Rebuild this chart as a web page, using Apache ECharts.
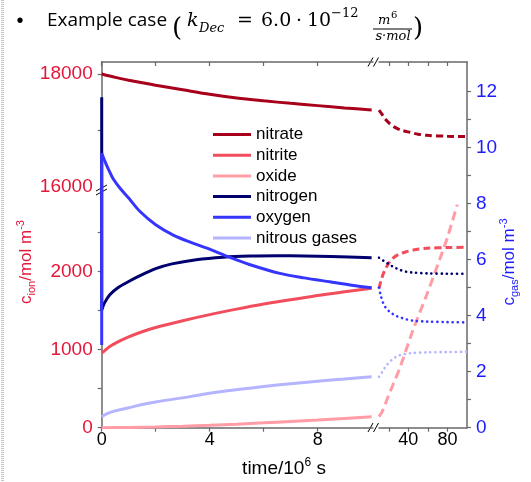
<!DOCTYPE html>
<html>
<head>
<meta charset="utf-8">
<script src="https://cdn.jsdelivr.net/npm/echarts@6/dist/echarts.min.js"></script>
<style>
	html, body { margin: 0; padding: 0; background: #fff; }
	#chart { width: 531px; height: 482px; }
</style>
</head>
<body>
<div id="chart"></div>
<script>
	// time in 10^6 s (first part) and in 10^6 s after the axis break
	const tNitrate = [0, 0.5, 1, 1.5, 2, 3, 4, 5, 6, 7, 8, 9, 10];
	const cNitrate = [18000, 17940, 17890, 17845, 17800, 17720, 17640, 17575, 17525, 17480, 17440, 17400, 17362];
	const tNitrate2 = [10, 13, 16, 21, 26, 32, 42, 50, 59, 80, 100];
	const cNitrate2 = [17362, 17290, 17210, 17120, 17060, 17010, 16966, 16935, 16914, 16898, 16891];

	const tNitrite = [0, 0.1, 0.3, 0.6, 1, 1.5, 2, 3, 4, 5, 6, 7, 8, 9, 10];
	const cNitrite = [958, 985, 1040, 1100, 1165, 1230, 1285, 1372, 1450, 1520, 1585, 1640, 1695, 1742, 1787];
	const tNitrite2 = [10, 12, 14, 16, 20, 24, 30, 38, 48, 59, 80, 100];
	const cNitrite2 = [1787, 1880, 1960, 2022, 2110, 2172, 2220, 2256, 2285, 2300, 2310, 2313];

	const tOxide = [0, 1, 2, 3, 4, 5, 6, 7, 8, 9, 10];
	const cOxide = [0, 4, 10, 19, 30, 45, 62, 80, 98, 119, 141];
	const tOxide2 = [10, 13, 16, 20, 25, 32, 45, 59, 73, 80, 90];
	const cOxide2 = [141, 200, 290, 420, 570, 790, 1260, 1710, 2190, 2440, 2860];

	// jump at t = 0, then the curve
	const tNitrogenJump = [0, 0];
	const vNitrogenJump = [11.8, 4.2];
	const tNitrogen = [0, 0.1, 0.3, 0.6, 1, 1.4, 2, 2.6, 3.5, 4.5, 5.5, 6.5, 7.5, 8.5, 10];
	const vNitrogen = [4.2, 4.45, 4.75, 5.0, 5.22, 5.42, 5.68, 5.85, 6.0, 6.09, 6.13, 6.14, 6.13, 6.11, 6.07];
	const tNitrogen2 = [10, 13, 16, 20, 25, 31, 38, 45, 60, 80, 100];
	const vNitrogen2 = [6.07, 6.0, 5.93, 5.84, 5.74, 5.64, 5.57, 5.54, 5.51, 5.5, 5.5];

	const tOxygenJump = [0, 0];
	const vOxygenJump = [2.95, 9.8];
	const tOxygen = [0, 0.1, 0.2, 0.3, 0.43, 0.68, 1, 1.42, 2, 2.65, 3.3, 3.9, 4.75, 5.5, 6.6, 7.5, 8.45, 9.2, 10];
	const vOxygen = [9.8, 9.56, 9.33, 9.13, 8.88, 8.55, 8.2, 7.72, 7.25, 6.88, 6.62, 6.41, 6.08, 5.82, 5.51, 5.35, 5.21, 5.1, 5.0];
	const tOxygen2 = [10, 12, 14.4, 17, 21, 26, 31.5, 38, 45, 59, 80, 100];
	const vOxygen2 = [5.0, 4.7, 4.44, 4.28, 4.14, 4.02, 3.94, 3.87, 3.82, 3.79, 3.77, 3.76];

	const tNitrous = [0, 0.2, 0.5, 1, 1.42, 2, 3.27, 4, 5.12, 6, 7, 8, 9, 10];
	const vNitrous = [0.39, 0.5, 0.6, 0.71, 0.81, 0.92, 1.11, 1.23, 1.37, 1.47, 1.57, 1.66, 1.74, 1.82];
	const tNitrous2 = [10, 13, 18, 23, 28, 35, 42, 59, 80, 100];
	const vNitrous2 = [1.82, 1.98, 2.24, 2.42, 2.54, 2.62, 2.66, 2.69, 2.7, 2.71];

	const names = ['nitrate', 'nitrite', 'oxide', 'nitrogen', 'oxygen', 'nitrous gases'];
	const colors = ['#a8001c', '#f24d5c', '#ff9ca5', '#00006e', '#3535ff', '#b4b4ff'];

	// tick labels
	const ionTicksLow = [0, 500, 1000, 1500, 2000, 2500];
	const ionLabelsLow = [0, 1000, 2000];
	const ionTicksHigh = [17000, 18000];
	const ionLabelsHigh = [16000, 18000];
	const gasTicks = [0, 1, 2, 3, 4, 5, 6, 7, 8, 9, 10, 11, 12];
	const gasLabels = [0, 2, 4, 6, 8, 10, 12];
	const timeTicks = [0, 2, 4, 6, 8];
	const timeLabels = [0, 4, 8];
	const timeTicks2 = [20, 40, 60, 80];
	const timeLabels2 = [40, 80];

	const ionColor = '#e3173a';
	const gasColor = '#1c1cff';
	const axisGrey = '#686868';

	function zip(t, v) {
		return t.map((x, i) => [x, v[i]]);
	}

	function line(name, t, v, idx, color, style) {
		let lineStyle = { color: color, width: 3 };
		if(style === 'dash') {
			lineStyle.type = [7, 4];
		} else if(style === 'longdash') {
			lineStyle.type = [9, 5];
		} else if(style === 'dot') {
			lineStyle.type = [0.1, 5];
			lineStyle.width = 2.6;
			lineStyle.cap = 'round';
		}
		return {
			name: name,
			type: 'line',
			xAxisIndex: idx,
			yAxisIndex: idx,
			data: zip(t, v),
			showSymbol: false,
			symbol: 'none',
			smooth: style === 'jump' ? false : 0.3,
			color: color,
			itemStyle: { color: color },
			lineStyle: lineStyle,
			emphasis: { disabled: true }
		};
	}

	function hiddenAxis(grid, min, max) {
		return { type: 'value', gridIndex: grid, min: min, max: max, show: false };
	}
	function timeAxis(grid, min, max, ticks, labels, pos) {
		return {
			type: 'value',
			gridIndex: grid,
			position: pos,
			min: min,
			max: max,
			axisLine: { show: true, lineStyle: { color: axisGrey, width: 1.5 } },
			axisTick: { show: true, inside: pos === 'top', length: 4, customValues: ticks, lineStyle: { color: axisGrey, width: 1.2 } },
			axisLabel: {
				show: pos === 'bottom',
				customValues: labels,
				formatter: (v) => String(v),
				margin: 3,
				color: '#000',
				fontSize: 18,
				fontFamily: 'Liberation Sans'
			},
			splitLine: { show: false }
		};
	}
	function sideAxis(grid, min, max, ticks, labels, pos, color) {
		return {
			type: 'value',
			gridIndex: grid,
			position: pos,
			min: min,
			max: max,
			axisLine: { show: true, lineStyle: { color: axisGrey, width: 1.5 } },
			axisTick: { show: true, length: 4, customValues: ticks, lineStyle: { color: axisGrey, width: 1.2 } },
			axisLabel: {
				customValues: labels,
				formatter: (v) => String(v),
				margin: 9,
				color: color,
				fontSize: 19,
				fontFamily: 'Liberation Sans'
			},
			splitLine: { show: false }
		};
	}

	const chart = echarts.init(document.getElementById('chart'), null, { renderer: 'canvas' });

	const sans = 'Liberation Sans';
	const serif = 'DejaVu Serif';

	const option = {
		backgroundColor: '#fff',
		animation: false,
		grid: [
			{ left: 101.7, top: 62, width: 271.3, height: 128 },
			{ left: 379, top: 62, width: 88, height: 128 },
			{ left: 101.7, top: 193.7, width: 271.3, height: 234 },
			{ left: 379, top: 193.7, width: 88, height: 234 },
			{ left: 101.7, top: 62, width: 271.3, height: 365.7 },
			{ left: 379, top: 62, width: 88, height: 365.7 }
		],
		xAxis: [
			hiddenAxis(0, 0, 10.05),
			hiddenAxis(1, 10, 100),
			hiddenAxis(2, 0, 10.05),
			hiddenAxis(3, 10, 100),
			timeAxis(4, 0, 10.05, timeTicks, timeLabels, 'bottom'),
			timeAxis(5, 10, 100, timeTicks2, timeLabels2, 'bottom'),
			timeAxis(4, 0, 10.05, timeTicks, timeLabels, 'top'),
			timeAxis(5, 10, 100, timeTicks2, timeLabels2, 'top')
		],
		yAxis: [
			sideAxis(0, 15947, 18212, ionTicksHigh, ionLabelsHigh, 'left', ionColor),
			hiddenAxis(1, 15947, 18212),
			sideAxis(2, 0, 3000, ionTicksLow, ionLabelsLow, 'left', ionColor),
			hiddenAxis(3, 0, 3000),
			hiddenAxis(4, 0, 13.06),
			sideAxis(5, 0, 13.06, gasTicks, gasLabels, 'right', gasColor)
		],
		legend: {
			data: names,
			orient: 'vertical',
			left: 208,
			top: 121,
			icon: 'rect',
			itemWidth: 38,
			itemHeight: 3,
			itemGap: 3.7,
			selectedMode: false,
			textStyle: { color: '#000', fontSize: 17, lineHeight: 17, fontFamily: sans }
		},
		series: [
			line('nitrate', tNitrate, cNitrate, 0, colors[0], 'solid'),
			line('nitrate', tNitrate2, cNitrate2, 1, colors[0], 'dash'),
			line('nitrite', tNitrite, cNitrite, 2, colors[1], 'solid'),
			line('nitrite', tNitrite2, cNitrite2, 3, colors[1], 'dash'),
			line('oxide', tOxide, cOxide, 2, colors[2], 'solid'),
			line('oxide', tOxide2, cOxide2, 3, colors[2], 'longdash'),
			line('nitrogen', tNitrogen, vNitrogen, 4, colors[3], 'solid'),
			line('nitrogen', tNitrogenJump, vNitrogenJump, 4, colors[3], 'jump'),
			line('nitrogen', tNitrogen2, vNitrogen2, 5, colors[3], 'dot'),
			line('oxygen', tOxygen, vOxygen, 4, colors[4], 'solid'),
			line('oxygen', tOxygenJump, vOxygenJump, 4, colors[4], 'jump'),
			line('oxygen', tOxygen2, vOxygen2, 5, colors[4], 'dot'),
			line('nitrous gases', tNitrous, vNitrous, 4, colors[5], 'solid'),
			line('nitrous gases', tNitrous2, vNitrous2, 5, colors[5], 'dot')
		],
		graphic: [
			// slide border on the left
			{ type: 'line', shape: { x1: 2.5, y1: 0, x2: 2.5, y2: 482 }, style: { stroke: '#c4c4c4', lineWidth: 3, lineDash: [1, 1] } },
			// title
			{ type: 'text', x: 20, y: 21, style: { text: '•', font: '20px ' + sans, fill: '#000', align: 'center', verticalAlign: 'middle' } },
			{ type: 'text', x: 47, y: 21, style: { text: 'Example case', font: '19px "Open Sans"', fill: '#000', verticalAlign: 'middle' } },
			{ type: 'text', x: 172, y: 29, style: { text: '(', font: '26px "' + serif + '"', fill: '#000', verticalAlign: 'middle' } },
			{ type: 'text', x: 187, y: 21, style: { text: 'k', font: 'italic 19px "' + serif + '"', fill: '#000', verticalAlign: 'middle' } },
			{ type: 'text', x: 199, y: 29, style: { text: 'Dec', font: 'italic 13px "' + serif + '"', fill: '#000', verticalAlign: 'middle' } },
			{ type: 'text', x: 237, y: 21, style: { text: '=', font: '19px "' + serif + '"', fill: '#000', verticalAlign: 'middle' } },
			{ type: 'text', x: 261, y: 21, style: { text: '6.0', font: '19px "' + serif + '"', fill: '#000', verticalAlign: 'middle' } },
			{ type: 'text', x: 296, y: 21, style: { text: '·', font: '19px "' + serif + '"', fill: '#000', verticalAlign: 'middle' } },
			{ type: 'text', x: 307, y: 21, style: { text: '10', font: '19px "' + serif + '"', fill: '#000', verticalAlign: 'middle' } },
			{ type: 'text', x: 331, y: 14, style: { text: '−12', font: '13px "' + serif + '"', fill: '#000', verticalAlign: 'middle' } },
			{ type: 'text', x: 378, y: 21, style: { text: 'm', font: 'italic 13px "' + serif + '"', fill: '#000', verticalAlign: 'middle' } },
			{ type: 'text', x: 391, y: 15, style: { text: '6', font: '10px "' + serif + '"', fill: '#000', verticalAlign: 'middle' } },
			{ type: 'line', shape: { x1: 373, y1: 29, x2: 412, y2: 29 }, style: { stroke: '#000', lineWidth: 1 } },
			{ type: 'text', x: 393, y: 37, style: { text: 's·mol', font: 'italic 13px "' + serif + '"', fill: '#000', align: 'center', verticalAlign: 'middle' } },
			{ type: 'text', x: 413, y: 29, style: { text: ')', font: '26px "' + serif + '"', fill: '#000', verticalAlign: 'middle' } },
			// axis titles
			{
				type: 'text', x: 26, y: 262, rotation: Math.PI / 2,
				style: {
					text: '{m|c}{s|ion}{m|/mol m}{p|-3}',
					fill: ionColor, align: 'center', verticalAlign: 'middle',
					rich: {
						m: { fontSize: 17, lineHeight: 22, fontFamily: sans, fill: ionColor },
						s: { fontSize: 11, lineHeight: 11, verticalAlign: 'bottom', fontFamily: sans, fill: ionColor },
						p: { fontSize: 11, lineHeight: 11, verticalAlign: 'top', fontFamily: sans, fill: ionColor }
					}
				}
			},
			{
				type: 'text', x: 509, y: 262, rotation: Math.PI / 2,
				style: {
					text: '{m|c}{s|gas}{m|/mol m}{p|-3}',
					fill: gasColor, align: 'center', verticalAlign: 'middle',
					rich: {
						m: { fontSize: 17, lineHeight: 22, fontFamily: sans, fill: gasColor },
						s: { fontSize: 11, lineHeight: 11, verticalAlign: 'bottom', fontFamily: sans, fill: gasColor },
						p: { fontSize: 11, lineHeight: 11, verticalAlign: 'top', fontFamily: sans, fill: gasColor }
					}
				}
			},
			{
				type: 'text', x: 284, y: 469,
				style: {
					text: '{m|time/10}{p|6}{m| s}',
					fill: '#000', align: 'center', verticalAlign: 'middle',
					rich: {
						m: { fontSize: 19, lineHeight: 24, fontFamily: sans, fill: '#000' },
						p: { fontSize: 12, lineHeight: 12, verticalAlign: 'top', fontFamily: sans, fill: '#000' }
					}
				}
			},
			// axis break marks
			{ type: 'line', shape: { x1: 368, y1: 432, x2: 373, y2: 423 }, style: { stroke: '#000', lineWidth: 1 } },
			{ type: 'line', shape: { x1: 373.5, y1: 432, x2: 378.5, y2: 423 }, style: { stroke: '#000', lineWidth: 1 } },
			{ type: 'line', shape: { x1: 368, y1: 66.5, x2: 373, y2: 57.5 }, style: { stroke: '#000', lineWidth: 1 } },
			{ type: 'line', shape: { x1: 373.5, y1: 66.5, x2: 378.5, y2: 57.5 }, style: { stroke: '#000', lineWidth: 1 } },
			{ type: 'line', shape: { x1: 96, y1: 191, x2: 107, y2: 185 }, style: { stroke: '#000', lineWidth: 1 } },
			{ type: 'line', shape: { x1: 96, y1: 195, x2: 107, y2: 189 }, style: { stroke: '#000', lineWidth: 1 } }
		]
	};
	chart.setOption(option);
	window.addEventListener('resize', function() {
		chart.resize();
	});
</script>
</body>
</html>
